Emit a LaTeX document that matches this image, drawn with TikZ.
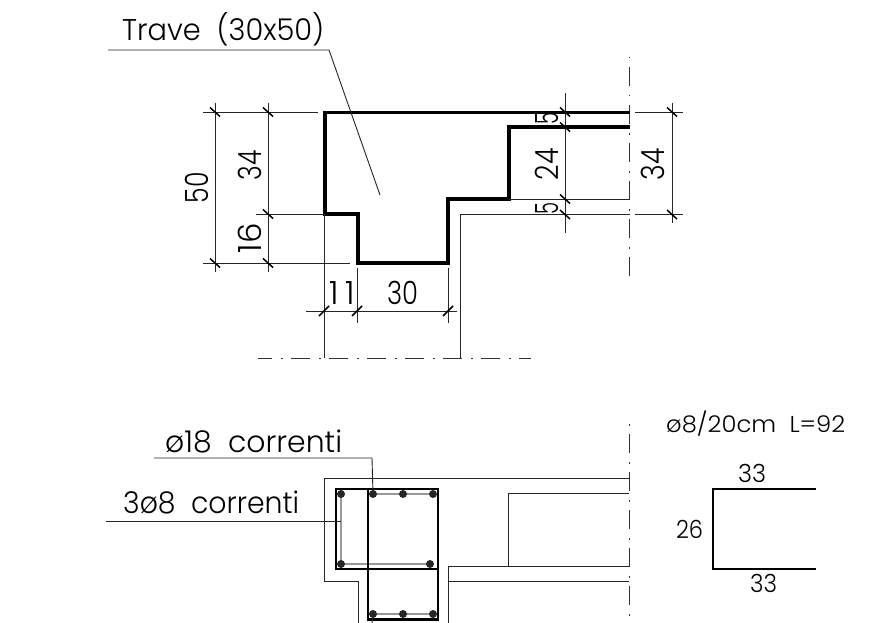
\documentclass[tikz,border=0pt]{standalone}
\usepackage{fontspec}
\setmainfont[UprightFont={* Light}]{Poppins}
\newcommand{\fit}[3]{\resizebox{#1pt}{\height}{\fontsize{#2pt}{#2pt}\selectfont #3}}
\tikzset{
  thin line/.style={line width=0.9pt,black!85},
  beam/.style={line width=3.8pt,line join=miter,black},
  stirrup/.style={line width=2.8pt,black},
  inner bar/.style={line width=2pt,black!40},
  shape line/.style={line width=1.9pt,black},
  tick/.style={line width=1.5pt,black},
  centre/.style={line width=1pt,black!80,dash pattern=on 19pt off 9pt on 1.5pt off 8.5pt,dash phase=28pt},
  rebar/.style={circle,fill=black!85,inner sep=0pt,minimum size=8pt},
  lbl/.style={inner sep=0pt,anchor=center,black},
  vlbl/.style={inner sep=0pt,anchor=center,rotate=90,black}
}
\begin{document}
\begin{tikzpicture}[x=1pt,y=-1pt]
\useasboundingbox (0,0) rectangle (888,623);
% centre lines
\draw[centre] (629,57) -- (629,285);
\draw[centre] (629,424) -- (629,623);
\draw[centre,dash phase=5pt] (258,358) -- (531,358);
% top section outline
\draw[beam] (630,112.5) -- (325,112.5) -- (325,214) -- (358,214) -- (358,263) -- (448,263) -- (448,199) -- (509,199) -- (509,127) -- (630,127);
\draw[thin line] (509,199) -- (629,199);
\draw[thin line] (460,214.5) -- (630,214.5);
\draw[thin line] (460,214.5) -- (460,358);
\draw[thin line] (324,214) -- (324,358);
% extension lines left
\draw[thin line] (203,112) -- (318,112);
\draw[thin line] (203,263) -- (350,263);
\draw[thin line] (256,214) -- (324,214);
\draw[thin line] (215,103) -- (215,272);
\draw[thin line] (268,103) -- (268,272);
% dims right
\draw[thin line] (565,93) -- (565,233);
\draw[thin line] (672,103) -- (672,223);
\draw[thin line] (635,112) -- (683,112);
\draw[thin line] (635,214.5) -- (683,214.5);
% bottom dim
\draw[thin line] (306,311) -- (457,311);
\draw[thin line] (357,268) -- (357,323);
\draw[thin line] (448,268) -- (448,323);
% ticks
\foreach \x/\y in {215/112,215/263,268/112,268/214,268/263,565/112,565/127,565/199,565/214.5,672/112,672/214.5}
  \draw[tick] (\x-5,\y-4.5) -- (\x+5,\y+4.5);
\foreach \x in {324,357,448}
  \draw[tick] (\x-5,311+5) -- (\x+5,311-5);
% leader top
\draw[thin line] (108,50) -- (329,50) -- (380,195);
% bottom section outline
\draw[thin line] (629,478) -- (324,478) -- (324,581) -- (358,581) -- (358,623);
\draw[thin line] (448,623) -- (448,566) -- (629,566);
\draw[thin line] (448,581) -- (629,581);
\draw[thin line] (629,493) -- (508,493) -- (508,566);
% inner bars
\draw[inner bar] (373,494) -- (433,494);
\draw[inner bar] (341,494) -- (341,564) -- (430,564);
\draw[inner bar] (373,614) -- (433,614);
% stirrups
\draw[stirrup] (336,489) rectangle (438,569);
\draw[stirrup] (368,489) -- (368,619.5) -- (438,619.5) -- (438,569);
% rebars
\foreach \n/\x/\y in {a/341/494,b/373/494,c/403/494,d/433/494,e/341/564,f/430/564,g/373/614,h/403/614,i/433/614}
  \node[rebar] (bar\n) at (\x,\y) {};
% leaders bottom
\draw[thin line] (154,458) -- (372,458) -- (barb.center);
\draw[thin line] (barg.center) -- (372,623);
\draw[thin line] (106,521) -- (341,521);
% stirrup shape
\draw[shape line] (816,489) -- (713,489) -- (713,569) -- (816,569);
% texts
\node[lbl,anchor=base west] (t1) at (122,40.5) {\fit{202}{30}{Trave\ \ (30x50)}};
\node[lbl,anchor=base west] (t2) at (165,452) {\fit{177}{30}{ø18\ \ correnti}};
\node[lbl,anchor=base west] (t3) at (123,513) {\fit{176}{30}{3ø8\ \ correnti}};
\node[lbl,anchor=base west] (t4) at (666,432) {\fit{179}{23}{ø8/20cm\ \ L=92}};
\node[lbl] (d33a) at (752,473) {\fit{28}{25}{33}};
\node[lbl] (d33b) at (763.5,583.5) {\fit{27}{25}{33}};
\node[lbl] (d26) at (689.5,529) {\fit{27}{25}{26}};
\node[vlbl] (d50) at (196.5,187.5) {\fit{31}{32}{50}};
\node[vlbl] (d34a) at (249.5,165) {\fit{30}{32}{34}};
\node[vlbl] (d16) at (249.5,238) {\fit{30}{32}{16}};
\node[vlbl] (d24) at (546.5,164) {\fit{32}{32}{24}};
\node[vlbl] (d34b) at (652.5,164) {\fit{32}{32}{34}};
\node[vlbl] (d5a) at (547,119) {\fit{12}{32}{5}};
\node[vlbl] (d5b) at (547,208) {\fit{12}{32}{5}};
\node[lbl] (d11) at (342,293) {\fit{25}{32}{1\hspace{6pt}1}};
\node[lbl] (d30) at (402.5,293) {\fit{31}{32}{30}};
\end{tikzpicture}
\end{document}
